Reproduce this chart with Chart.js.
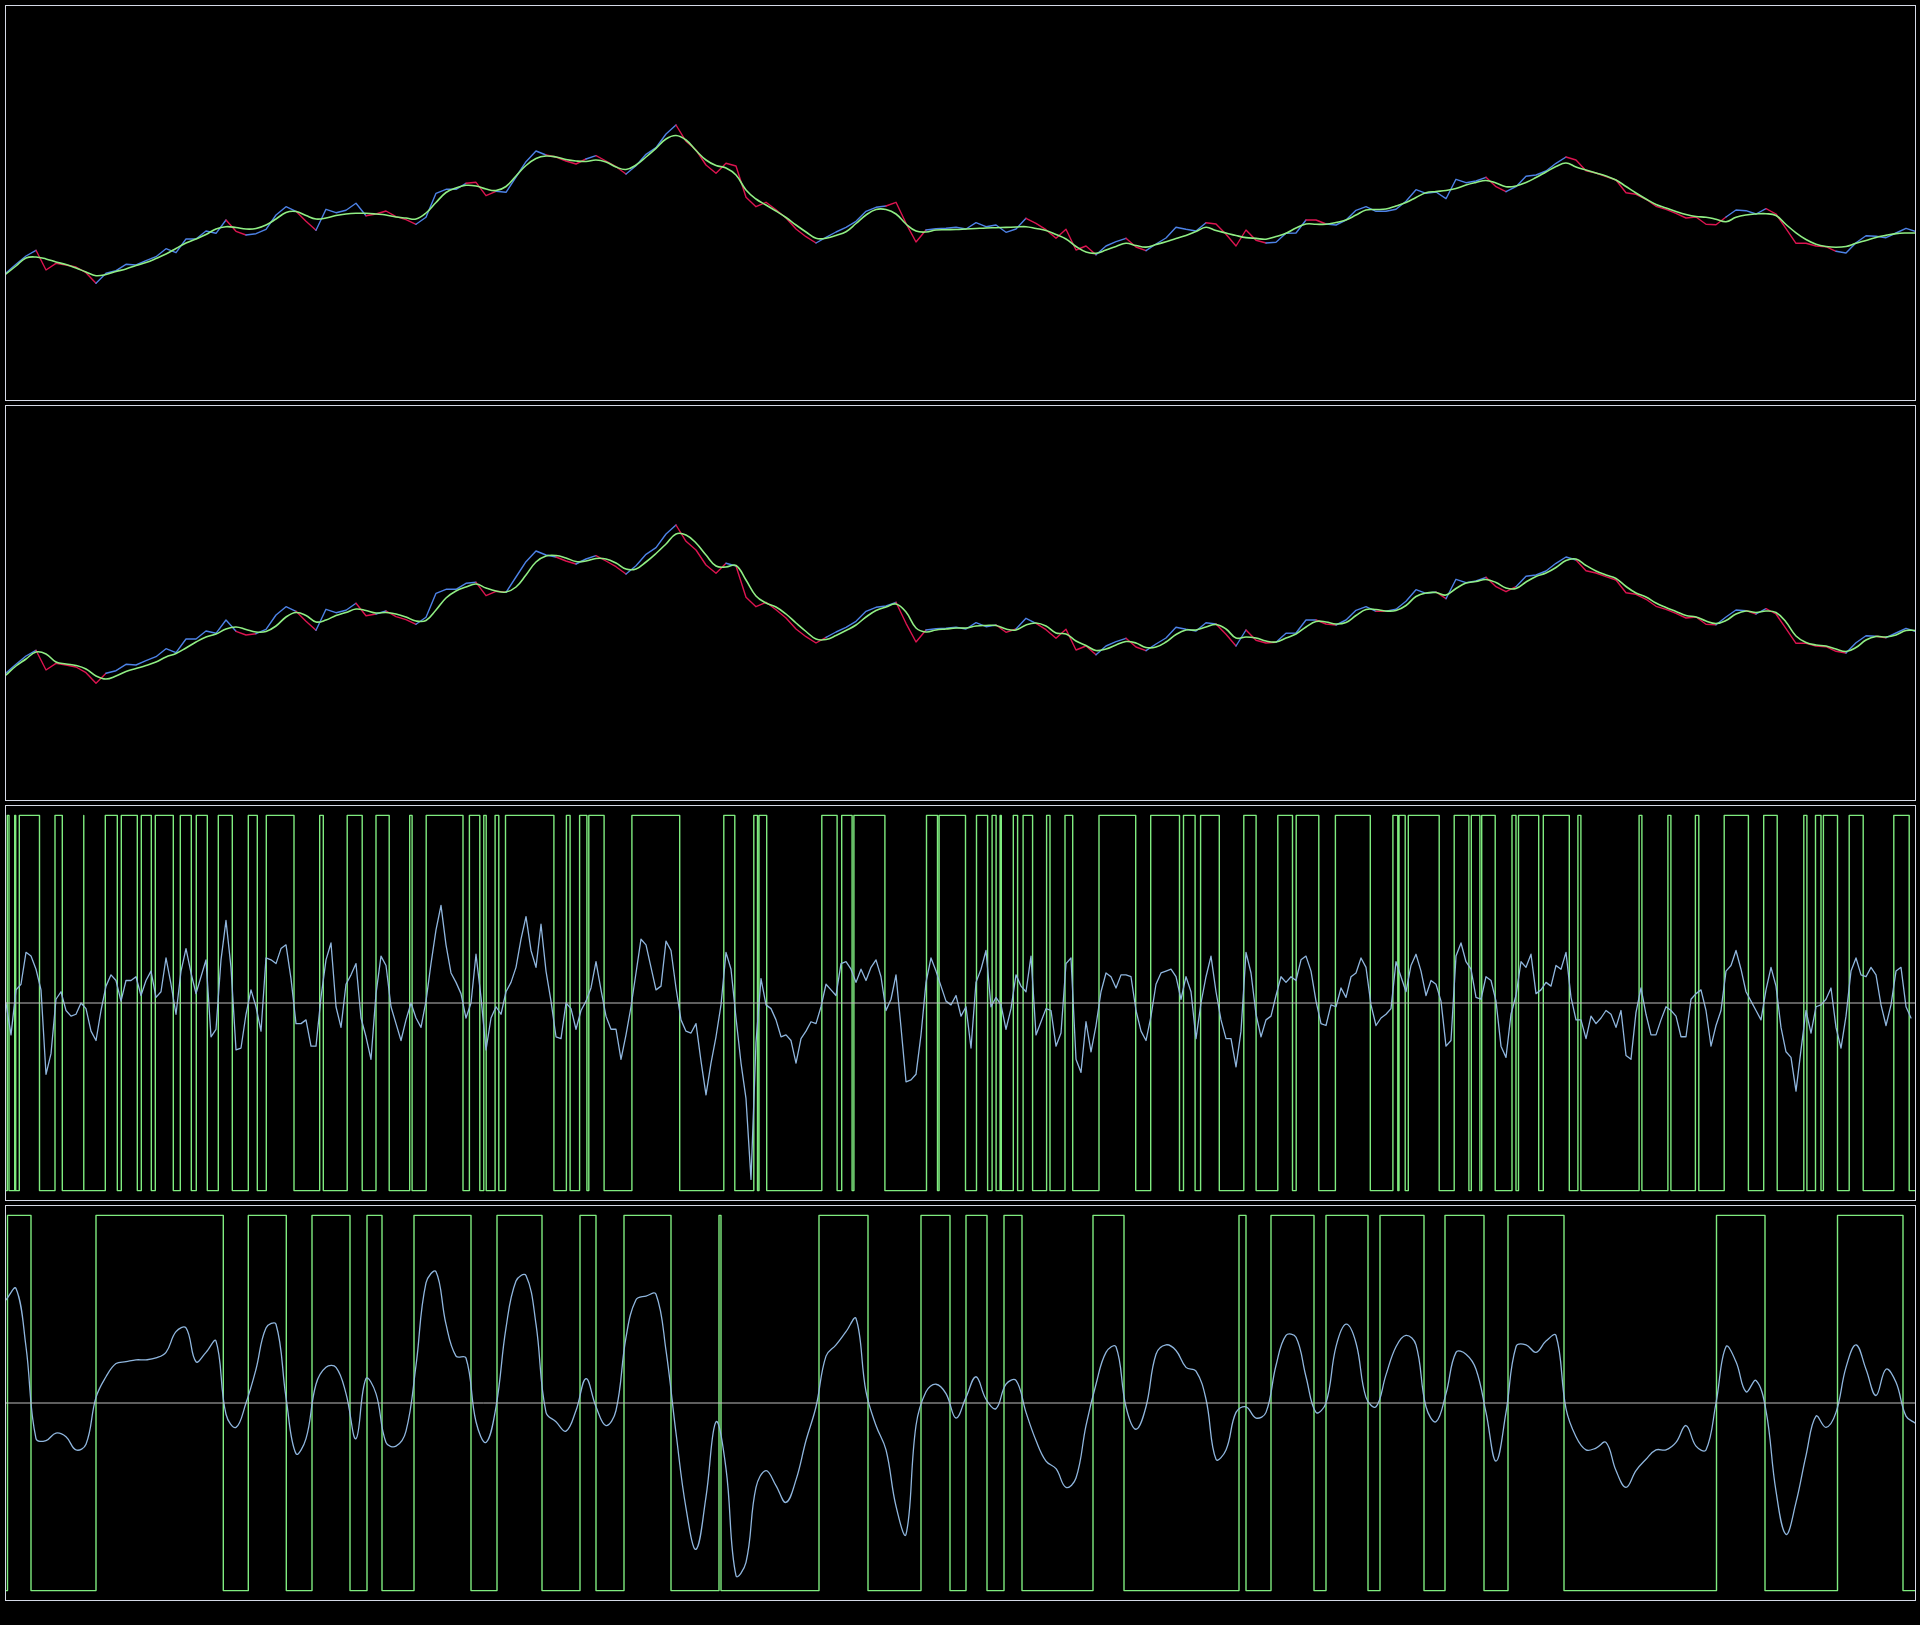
<!DOCTYPE html>
<html><head><meta charset="utf-8">
<script src="https://cdn.jsdelivr.net/npm/chart.js@4/dist/chart.umd.min.js"></script>
<style>
html,body{margin:0;padding:0;background:#000;width:1920px;height:1625px;overflow:hidden;}
.panel{position:absolute;left:5px;width:1911px;height:396px;box-sizing:border-box;border:1px solid #d4d9e6;}
.panel canvas{display:block;}
</style></head><body>
<div class="panel" style="top:5px"><canvas id="c1" width="1909" height="394"></canvas></div>
<div class="panel" style="top:405px"><canvas id="c2" width="1909" height="394"></canvas></div>
<div class="panel" style="top:805px"><canvas id="c3" width="1909" height="394"></canvas></div>
<div class="panel" style="top:1205px"><canvas id="c4" width="1909" height="394"></canvas></div>
<script>
// ---- data ----
const price = [127,135.7,144,149.7,130,136.7,135,133,127.3,116.7,126.7,129.3,135.7,135,139.3,143.3,151.3,147.3,161,161,169,166.7,180,168.7,165,166.3,170.7,185,193.3,188.7,178.7,169.7,190.7,187.3,189.7,196.7,184.3,186,189,183.3,180.3,175.7,182.7,206.7,210.7,210.7,216.7,217.7,204.3,208.7,207.7,223,238.3,249,245,243,239,236,241,244.3,239,233.3,226,234.3,245.7,252.3,266,275,258.7,250,235,226.7,236.7,234,202.7,193.3,197.7,190.3,182,171,163.3,157,162.7,168,172.7,178.7,188.7,192.7,194,197.7,176.7,158,170,171.3,171.7,172.7,171,177.3,173.3,175,167.7,171,181.7,176.7,170.3,161.7,170.7,150,154,145.3,154,158.3,161.7,153,149.3,156,162,172.7,170.7,169,177.3,176,165.7,154,170,159.7,157,157.7,166.7,167,180,180,176,175,180,189.7,193.3,188.7,188.7,190.7,198.7,210.3,206.7,208,201.3,220.7,217.3,219,222.7,213.3,208.3,213.3,223.7,225,229,236.7,243,240,229.3,227,223.3,220,207.3,205.7,200.7,193.7,190.7,186.7,182,183,175.7,175.3,183,190,189.3,186,191.3,186,171.3,156.7,156.7,154,153.3,148.7,147,157.3,164.3,163.7,162.3,167,171.7,168.3];
const smoothA = [126,134,142,143,141,138,135.5,132,128,124.3,125.5,128.5,131,134.5,137.5,141.5,146,151.5,157,161,165.5,171,173.3,172.5,171,171.5,175,181,187.5,188.5,184.5,181,182,184.5,186,186.7,186.7,186,185,183,182,181,187,197.5,207.5,212,214.7,214,211,209.5,213.5,224,234.5,241.5,244,243,240.5,239,238.5,240,238,233,230.5,235,243,251.7,261,264.5,260,249.5,240,234.5,232,225,210,201,195,189,182.5,175,168,161.7,161.7,164.5,168.3,176.5,185,190.5,190.5,186,176,169,168,170,170.3,170.5,171,171.5,172,172.3,172.6,173,173.3,171.5,169.5,165.5,161,153.5,148,146.7,150,153.5,156.7,154.5,152.9,155.5,158.3,161.5,164.5,168.5,172.7,169.5,167,164.5,162.4,161.6,160.8,163.5,166.7,172,176,175.8,175.7,177.5,180,185,190,190.5,191,194,197.5,202.5,207.3,208.5,209.5,211.5,215,217.5,219.5,217,213.3,214,217.5,222.5,228,233.5,237,233,230,227,224,220,213.5,207,201,195.5,192,188.5,185.5,183.5,182.8,180.7,178.3,182.7,185,186,186.3,184.5,175.5,167.2,160.5,155.8,153.5,152.7,153.5,156.8,159.6,162.5,164.6,166.4,167,167];
const smoothB = [125,134,141,148,146,138,136,134.5,131,124,121,124,128.5,131.5,134.5,138,143,146.5,152,158,163,166,171,173,170.5,168,168.5,174,183,187.5,184.5,178,180,184.5,187.5,191,189.5,187,187.5,186,183,179,179.5,190,202,209,213,216,212,209,208,213,225,238,244,244.5,242,238.5,239,241.5,241,237,231,231,238,246.5,256,266,265,257,245,234,233,234.5,220,204,197,193,186,177,168.5,161,160.5,164.5,169.5,175,183,189.5,193,196,188,172,168,170,171,172,172,174,174.5,174.5,171,170,175,177,174,167,166,159,154.5,149.5,151,155,158.5,157,152.5,153,158,165.5,170,170,173,175.5,171,162,163,162,159,158,162,166,173,178.5,178,176,177.5,184.5,190.5,190.5,189,189.5,194.5,203.5,207,207.5,205,211.5,217,218.5,220.5,217.5,212,211.5,218,223.5,227,232.5,239.5,241,234.5,229,225,221.5,213.5,207,203,197,192.5,188.5,184.5,183,179,176.5,179.5,186,189,187.5,189,187.5,178,164,157.5,155,154,151,148.5,152.5,160,163.5,163,165,169.5,169.5];
const osc3 = [0.00,-0.17,0.07,0.10,0.27,0.25,0.18,0.07,-0.38,-0.27,0.02,0.06,-0.04,-0.07,-0.06,0.00,-0.03,-0.15,-0.20,-0.04,0.09,0.15,0.12,0.01,0.12,0.12,0.14,0.04,0.12,0.17,0.03,0.06,0.24,0.10,-0.06,0.17,0.29,0.16,0.05,0.14,0.23,-0.18,-0.14,0.23,0.44,0.19,-0.25,-0.24,-0.06,0.07,-0.02,-0.15,0.24,0.23,0.21,0.29,0.31,0.13,-0.11,-0.11,-0.09,-0.23,-0.23,0.03,0.23,0.32,-0.02,-0.13,0.10,0.15,0.21,-0.08,-0.18,-0.30,0.05,0.25,0.20,-0.02,-0.11,-0.20,-0.09,0.00,-0.08,-0.13,0.01,0.21,0.39,0.52,0.31,0.16,0.11,0.05,-0.08,0.00,0.26,0.03,-0.25,-0.08,-0.02,-0.06,0.06,0.11,0.19,0.34,0.46,0.28,0.19,0.42,0.17,0.01,-0.18,-0.19,0.00,-0.03,-0.14,-0.04,0.01,0.08,0.22,0.07,-0.07,-0.14,-0.14,-0.30,-0.17,-0.02,0.16,0.34,0.31,0.19,0.07,0.09,0.33,0.28,0.08,-0.09,-0.15,-0.16,-0.11,-0.31,-0.49,-0.32,-0.18,-0.01,0.27,0.18,-0.08,-0.32,-0.51,-0.94,-0.21,0.13,-0.01,-0.03,-0.09,-0.18,-0.17,-0.20,-0.32,-0.19,-0.15,-0.10,-0.11,-0.02,0.10,0.07,0.04,0.21,0.22,0.18,0.11,0.18,0.12,0.19,0.23,0.14,-0.04,0.02,0.15,-0.13,-0.42,-0.41,-0.38,-0.17,0.11,0.24,0.17,0.09,0.01,-0.01,0.04,-0.07,-0.02,-0.24,0.11,0.18,0.28,-0.02,0.03,-0.01,-0.14,-0.03,0.15,0.09,0.06,0.25,-0.17,-0.10,-0.03,-0.04,-0.23,-0.16,0.21,0.24,-0.30,-0.37,-0.10,-0.26,-0.12,0.06,0.16,0.14,0.08,0.15,0.15,0.14,-0.04,-0.15,-0.20,-0.07,0.10,0.16,0.17,0.18,0.14,0.02,0.14,0.06,-0.19,0.00,0.14,0.25,0.06,-0.09,-0.19,-0.19,-0.34,-0.15,0.27,0.16,-0.06,-0.18,-0.09,-0.07,0.04,0.14,0.11,0.14,0.12,0.23,0.25,0.17,0.01,-0.11,-0.12,-0.01,-0.02,0.08,0.03,0.14,0.16,0.24,0.19,-0.01,-0.12,-0.08,-0.06,-0.03,0.22,0.14,0.06,0.20,0.26,0.17,0.04,0.12,0.10,0.01,-0.23,-0.20,0.25,0.32,0.22,0.18,0.03,0.02,0.14,0.12,0.01,-0.23,-0.29,-0.06,0.04,0.22,0.19,0.26,0.05,0.07,0.11,0.09,0.20,0.18,0.27,0.03,-0.09,-0.09,-0.19,-0.07,-0.11,-0.08,-0.04,-0.06,-0.13,-0.04,-0.28,-0.30,-0.05,0.08,-0.06,-0.17,-0.17,-0.09,-0.02,-0.04,-0.07,-0.18,-0.18,0.02,0.05,0.07,-0.04,-0.23,-0.12,-0.04,0.17,0.20,0.28,0.18,0.06,0.01,-0.04,-0.09,0.07,0.19,0.09,-0.13,-0.26,-0.29,-0.47,-0.25,-0.04,-0.16,-0.02,-0.01,0.02,0.08,-0.13,-0.24,-0.07,0.17,0.24,0.15,0.14,0.19,0.15,-0.01,-0.12,-0.01,0.17,0.19,-0.02,-0.08];
const sq3High = [[0.26,0.6],[1.74,1.94],[2.66,6.7],[9.8,11.26],[15.46,15.6],[19.86,22.26],[23.06,26.26],[27.06,29.06],[29.86,33.46],[34.86,37.06],[38.06,40.26],[42.46,45.26],[48.46,50.26],[52.06,57.6],[62.74,63.46],[68.24,71.24],[74,76.64],[80.74,81.22],[84.04,91.4],[92.68,94.76],[95.56,96.04],[97.82,98.56],[99.9,109.58],[112.08,112.82],[114.72,116.18],[116.56,119.62],[125.18,134.74],[143.56,145.76],[149.56,150.3],[150.6,152.14],[163.16,166.22],[167.14,169.22],[169.58,175.78],[184.1,186.3],[186.62,191.9],[194.1,196.32],[197.22,198.02],[198.82,199.06],[201.46,202.32],[203.42,205.32],[208.12,208.8],[211.8,213.34],[218.6,225.94],[228.94,234.7],[235.5,237.82],[238.92,242.66],[247.56,250.02],[254.36,257.3],[258.04,262.56],[265.88,272.86],[277.38,278.36],[278.6,279.84],[280.46,286.64],[289.64,292.58],[293.06,294.78],[295.14,297.84],[301.2,302],[302.5,306.54],[307.46,312.66],[314.38,314.98],[326.62,327.18],[332.38,332.98],[337.88,338.56],[343.64,348.48],[351.54,354.24],[359.56,360.18],[361.9,363],[363.48,366.3],[368.64,371.44],[377.56,380.64]];
const osc4 = [0.55,0.61,0.30,-0.19,-0.20,-0.16,-0.18,-0.25,-0.22,0.03,0.14,0.21,0.22,0.23,0.23,0.24,0.27,0.38,0.40,0.22,0.27,0.33,-0.06,-0.13,0.00,0.18,0.40,0.42,0.03,-0.27,-0.19,0.10,0.19,0.19,0.05,-0.19,0.13,0.05,-0.21,-0.23,-0.15,0.20,0.64,0.70,0.42,0.25,0.24,-0.10,-0.21,-0.02,0.40,0.65,0.68,0.42,-0.05,-0.10,-0.15,-0.04,0.13,-0.02,-0.12,-0.04,0.35,0.55,0.57,0.58,0.28,-0.16,-0.56,-0.78,-0.50,-0.10,-0.35,-0.92,-0.85,-0.45,-0.36,-0.44,-0.53,-0.41,-0.20,-0.02,0.25,0.31,0.38,0.45,0.06,-0.12,-0.25,-0.55,-0.70,-0.12,0.06,0.10,0.05,-0.08,0.03,0.14,0.02,-0.03,0.10,0.12,-0.05,-0.20,-0.31,-0.35,-0.45,-0.40,-0.12,0.10,0.27,0.30,-0.02,-0.14,-0.02,0.26,0.31,0.28,0.19,0.17,0.02,-0.30,-0.25,-0.05,-0.02,-0.08,-0.05,0.20,0.36,0.35,0.14,-0.05,0.00,0.30,0.42,0.32,0.03,-0.02,0.15,0.30,0.36,0.31,-0.02,-0.10,0.05,0.27,0.26,0.18,-0.05,-0.31,-0.05,0.30,0.31,0.27,0.33,0.36,-0.03,-0.18,-0.25,-0.24,-0.21,-0.36,-0.45,-0.36,-0.30,-0.25,-0.25,-0.21,-0.12,-0.23,-0.25,0.00,0.30,0.22,0.06,0.12,-0.04,-0.47,-0.70,-0.53,-0.28,-0.07,-0.13,-0.05,0.19,0.31,0.18,0.04,0.18,0.11,-0.07,-0.11];
const sq4High = [[0.15,2.5],[9.0,21.73],[24.23,28.03],[30.6,34.4],[36.1,37.6],[40.8,46.5],[49.1,53.6],[57.4,59.0],[61.8,66.5],[71.3,71.5],[81.3,86.2],[91.5,94.4],[96.0,98.1],[99.8,101.6],[108.7,111.8],[123.3,124.0],[126.5,130.8],[132.0,136.2],[137.4,141.8],[143.9,147.8],[150.2,155.8],[171.05,175.9],[183.15,189.7]];

// ---- styling ----
const BLUE = '#4d82e6', RED = '#dc1450', SMOOTH = '#90ee84', SQ = '#7fec7f', OSC = '#8fb6de', ZERO = '#bdbdbd';
const X12 = 190.9, X3 = 381.8, X4 = 190.9;

const xy = arr => arr.map((v, i) => ({x: i, y: v}));
function squarePts(high, xmax) {
  const pts = [{x: 0, y: -1}];
  for (const [a, b] of high) pts.push({x: a, y: -1}, {x: a, y: 1}, {x: b, y: 1}, {x: b, y: -1});
  pts.push({x: xmax, y: -1});
  return pts;
}
function baseOpts(xmax, ymin, ymax) {
  return {
    responsive: false, animation: false, devicePixelRatio: 1,
    layout: {padding: 0},
    plugins: {legend: {display: false}, tooltip: {enabled: false}},
    elements: {point: {radius: 0, hoverRadius: 0}, line: {borderJoinStyle: 'round', borderCapStyle: 'round'}},
    scales: {
      x: {type: 'linear', display: false, min: 0, max: xmax},
      y: {type: 'linear', display: false, min: ymin, max: ymax}
    }
  };
}
function priceChart(id, smooth) {
  new Chart(document.getElementById(id), {
    type: 'line',
    data: {datasets: [
      {data: xy(smooth), borderColor: SMOOTH, borderWidth: 1.6, tension: 0.4, order: 0},
      {data: xy(price), borderColor: BLUE, borderWidth: 1.4, tension: 0, order: 1,
       segment: {borderColor: c => smooth[c.p1DataIndex] >= smooth[c.p0DataIndex] ? BLUE : RED}}
    ]},
    options: baseOpts(X12, 0, 394)
  });
}
function oscChart(id, osc, high, xmax, tension) {
  new Chart(document.getElementById(id), {
    type: 'line',
    data: {datasets: [
      {data: [{x: 0, y: 0}, {x: xmax, y: 0}], borderColor: ZERO, borderWidth: 1, order: 0},
      {data: xy(osc), borderColor: OSC, borderWidth: 1.3, tension: tension, order: 1},
      {data: squarePts(high, xmax), borderColor: SQ, borderWidth: 1.4, tension: 0, order: 2}
    ]},
    options: baseOpts(xmax, -1.05, 1.05)
  });
}
priceChart('c1', smoothA);
priceChart('c2', smoothB);
oscChart('c3', osc3, sq3High, X3, 0);
oscChart('c4', osc4, sq4High, X4, 0.4);
</script>
</body></html>
